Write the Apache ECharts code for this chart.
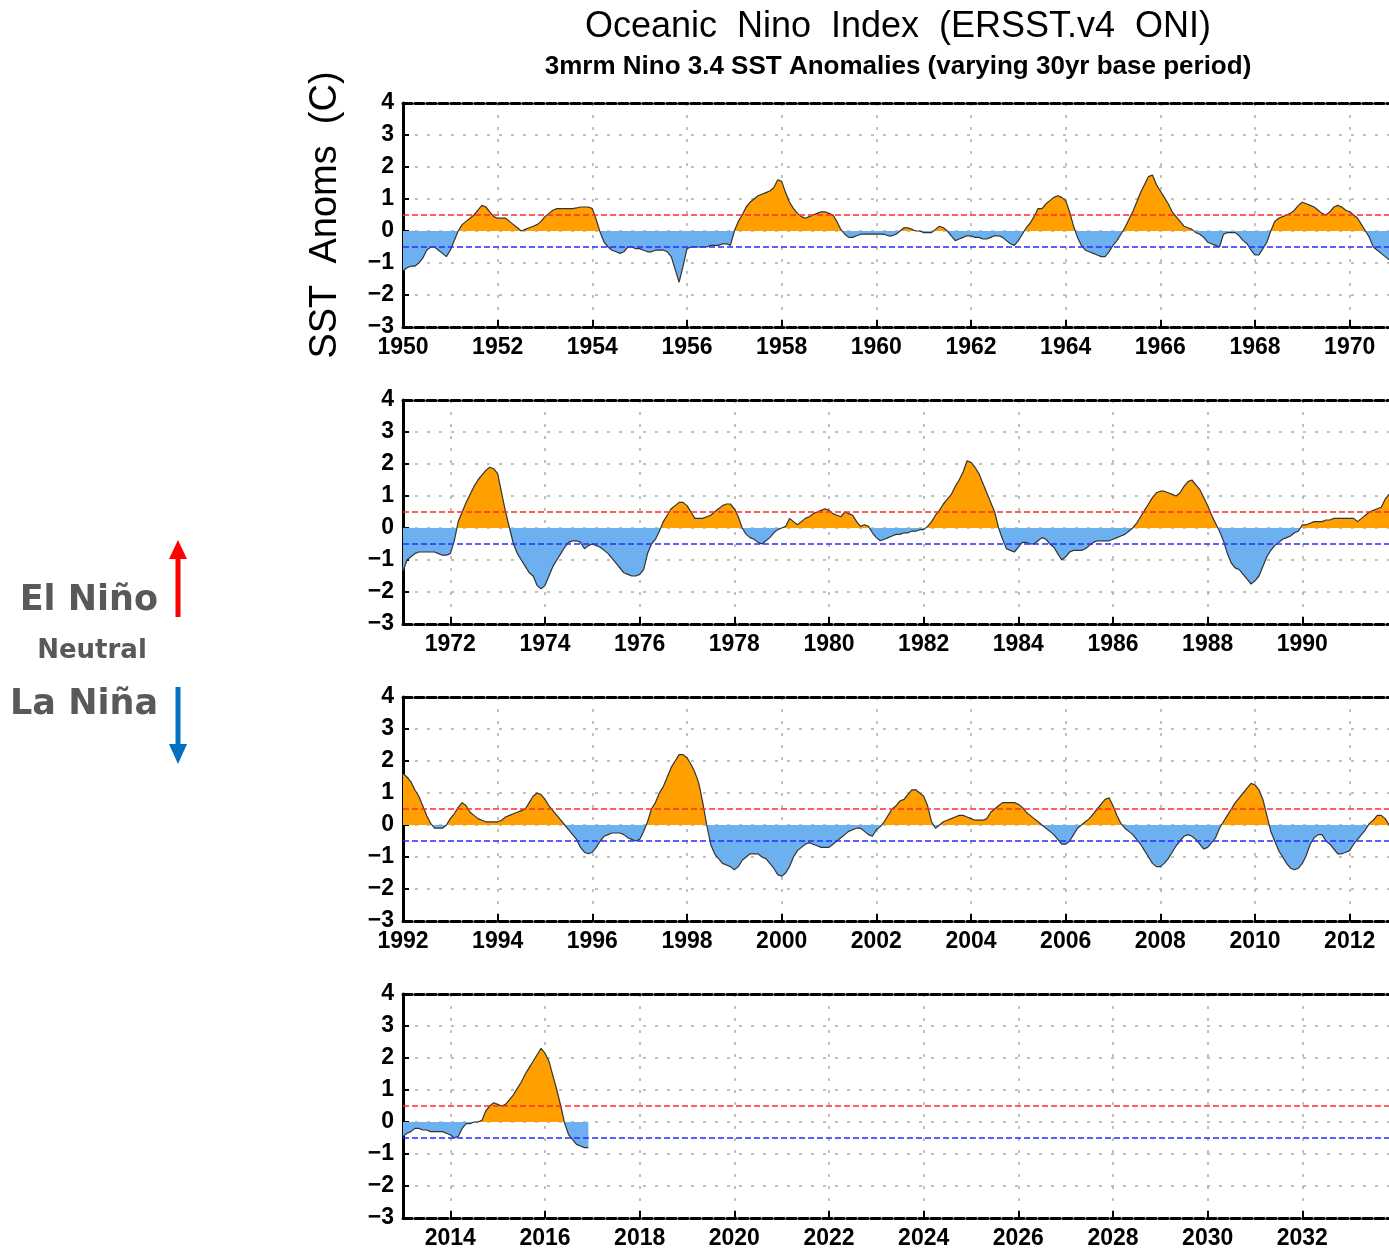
<!DOCTYPE html>
<html>
<head>
<meta charset="utf-8">
<title>Oceanic Nino Index</title>
<script src="https://cdn.jsdelivr.net/npm/echarts@6/dist/echarts.min.js"></script>
<style>
html, body { margin: 0; padding: 0; background: #fff; }
#chart { width: 1389px; height: 1251px; }
</style>
</head>
<body>
<div id="chart"></div>
<script>
// 3-month running mean Nino 3.4 SST anomalies, one row per year (Jan..Dec)
var firstYear = 1950;

var oniA = [ // 1950 - 1970
	-1.25, -1.15, -1.1, -1.1, -1.0, -0.85, -0.6, -0.5, -0.5, -0.6, -0.7, -0.8,
	-0.6, -0.3, 0.0, 0.2, 0.3, 0.4, 0.5, 0.65, 0.8, 0.75, 0.6, 0.45,
	0.4, 0.4, 0.4, 0.3, 0.2, 0.1, 0.0, 0.05, 0.1, 0.15, 0.2, 0.3,
	0.45, 0.55, 0.65, 0.7, 0.7, 0.7, 0.7, 0.7, 0.72, 0.75, 0.75, 0.75,
	0.7, 0.35, -0.05, -0.35, -0.5, -0.6, -0.65, -0.7, -0.65, -0.5, -0.5, -0.55,
	-0.55, -0.6, -0.65, -0.65, -0.6, -0.6, -0.6, -0.65, -0.8, -1.2, -1.6, -1.1,
	-0.55, -0.5, -0.5, -0.5, -0.5, -0.5, -0.45, -0.45, -0.45, -0.4, -0.4, -0.45,
	0.0, 0.3, 0.5, 0.75, 0.9, 1.0, 1.1, 1.15, 1.2, 1.25, 1.35, 1.6,
	1.55, 1.2, 0.9, 0.7, 0.55, 0.45, 0.4, 0.45, 0.5, 0.55, 0.6, 0.6,
	0.55, 0.5, 0.3, 0.05, -0.1, -0.2, -0.2, -0.15, -0.1, -0.1, -0.1, -0.1,
	-0.1, -0.1, -0.1, -0.15, -0.15, -0.1, 0.0, 0.1, 0.1, 0.05, 0.0, 0.0,
	-0.05, -0.05, -0.05, 0.05, 0.15, 0.1, 0.0, -0.15, -0.3, -0.25, -0.2, -0.15,
	-0.15, -0.2, -0.2, -0.25, -0.25, -0.2, -0.15, -0.15, -0.2, -0.3, -0.4, -0.45,
	-0.3, -0.1, 0.1, 0.25, 0.45, 0.7, 0.7, 0.85, 0.95, 1.05, 1.1, 1.05,
	0.95, 0.6, 0.15, -0.2, -0.45, -0.6, -0.65, -0.7, -0.75, -0.8, -0.8, -0.65,
	-0.45, -0.3, -0.1, 0.1, 0.35, 0.6, 0.9, 1.2, 1.45, 1.7, 1.75, 1.45,
	1.25, 1.05, 0.85, 0.6, 0.45, 0.3, 0.15, 0.1, 0.05, -0.05, -0.1, -0.2,
	-0.35, -0.4, -0.45, -0.5, -0.1, -0.05, -0.05, -0.05, -0.15, -0.3, -0.4, -0.6,
	-0.75, -0.75, -0.55, -0.35, 0.0, 0.3, 0.4, 0.45, 0.5, 0.55, 0.65, 0.8,
	0.9, 0.85, 0.8, 0.75, 0.65, 0.55, 0.5, 0.6, 0.75, 0.8, 0.75, 0.65,
	0.6, 0.5, 0.4, 0.2, 0.0, -0.2, -0.5, -0.6, -0.7, -0.8, -0.9, -0.9
];

var oniB = [ // 1971 - 1991
	-1.35, -1.0, -0.9, -0.8, -0.75, -0.75, -0.75, -0.75, -0.75, -0.8, -0.85, -0.85,
	-0.8, -0.4, 0.2, 0.5, 0.8, 1.05, 1.3, 1.5, 1.65, 1.8, 1.9, 1.85,
	1.7, 1.1, 0.5, 0.0, -0.5, -0.8, -1.0, -1.2, -1.4, -1.5, -1.8, -1.9,
	-1.8, -1.5, -1.2, -1.0, -0.8, -0.6, -0.45, -0.4, -0.4, -0.45, -0.65, -0.55,
	-0.5, -0.55, -0.6, -0.7, -0.8, -0.95, -1.1, -1.25, -1.4, -1.45, -1.5, -1.5,
	-1.45, -1.3, -0.8, -0.5, -0.35, -0.1, 0.2, 0.4, 0.6, 0.7, 0.8, 0.8,
	0.7, 0.5, 0.3, 0.3, 0.3, 0.35, 0.4, 0.5, 0.6, 0.7, 0.75, 0.75,
	0.6, 0.35, 0.0, -0.2, -0.3, -0.35, -0.45, -0.5, -0.4, -0.3, -0.15, -0.05,
	0.0, 0.05, 0.3, 0.2, 0.1, 0.2, 0.3, 0.35, 0.45, 0.5, 0.55, 0.6,
	0.55, 0.45, 0.4, 0.35, 0.5, 0.45, 0.4, 0.2, 0.05, 0.1, 0.05, -0.15,
	-0.3, -0.4, -0.35, -0.3, -0.25, -0.2, -0.2, -0.15, -0.15, -0.1, -0.1, -0.05,
	-0.05, 0.05, 0.2, 0.4, 0.55, 0.75, 0.9, 1.05, 1.3, 1.5, 1.75, 2.1,
	2.05, 1.9, 1.7, 1.4, 1.1, 0.8, 0.5, 0.0, -0.35, -0.65, -0.7, -0.75,
	-0.6, -0.45, -0.45, -0.5, -0.5, -0.4, -0.3, -0.35, -0.5, -0.6, -0.8, -1.0,
	-0.9, -0.75, -0.7, -0.7, -0.7, -0.65, -0.55, -0.45, -0.4, -0.4, -0.4, -0.4,
	-0.35, -0.3, -0.25, -0.2, -0.1, 0.0, 0.15, 0.35, 0.55, 0.75, 0.95, 1.1,
	1.15, 1.15, 1.1, 1.05, 1.0, 1.1, 1.3, 1.45, 1.5, 1.35, 1.2, 0.95,
	0.7, 0.4, 0.15, -0.1, -0.4, -0.8, -1.1, -1.25, -1.3, -1.45, -1.6, -1.75,
	-1.65, -1.5, -1.2, -0.9, -0.7, -0.55, -0.45, -0.35, -0.3, -0.25, -0.15, -0.1,
	0.1, 0.1, 0.15, 0.2, 0.2, 0.2, 0.25, 0.25, 0.3, 0.3, 0.3, 0.3,
	0.3, 0.3, 0.2, 0.3, 0.4, 0.5, 0.55, 0.6, 0.65, 0.9, 1.05, 1.3
];

var oniC = [ // 1992 - 2012
	1.6, 1.5, 1.35, 1.1, 0.9, 0.6, 0.3, 0.05, -0.1, -0.1, -0.1, 0.0,
	0.2, 0.35, 0.55, 0.7, 0.6, 0.4, 0.3, 0.2, 0.15, 0.1, 0.1, 0.1,
	0.1, 0.15, 0.25, 0.3, 0.35, 0.4, 0.45, 0.5, 0.7, 0.9, 1.0, 0.95,
	0.8, 0.6, 0.45, 0.3, 0.15, 0.0, -0.15, -0.3, -0.45, -0.7, -0.85, -0.9,
	-0.85, -0.7, -0.5, -0.35, -0.3, -0.25, -0.25, -0.25, -0.3, -0.4, -0.45, -0.5,
	-0.45, -0.2, 0.1, 0.5, 0.7, 1.0, 1.2, 1.5, 1.8, 2.0, 2.2, 2.2,
	2.1, 1.9, 1.65, 1.3, 0.7, 0.0, -0.6, -0.9, -1.05, -1.2, -1.25, -1.3,
	-1.4, -1.3, -1.1, -1.0, -0.9, -0.9, -0.9, -1.0, -1.05, -1.2, -1.35, -1.55,
	-1.6, -1.5, -1.3, -1.0, -0.8, -0.7, -0.6, -0.55, -0.6, -0.65, -0.7, -0.7,
	-0.7, -0.6, -0.5, -0.4, -0.3, -0.2, -0.15, -0.1, -0.1, -0.2, -0.3, -0.35,
	-0.15, -0.05, 0.1, 0.3, 0.5, 0.6, 0.75, 0.8, 0.95, 1.1, 1.1, 1.0,
	0.9, 0.6, 0.1, -0.1, 0.0, 0.1, 0.15, 0.2, 0.25, 0.3, 0.3, 0.25,
	0.2, 0.15, 0.15, 0.15, 0.2, 0.4, 0.5, 0.6, 0.7, 0.7, 0.7, 0.7,
	0.65, 0.55, 0.4, 0.3, 0.2, 0.1, 0.0, -0.1, -0.2, -0.3, -0.45, -0.6,
	-0.6, -0.5, -0.3, -0.1, 0.0, 0.1, 0.2, 0.35, 0.5, 0.65, 0.8, 0.85,
	0.6, 0.3, 0.05, -0.1, -0.2, -0.3, -0.45, -0.6, -0.8, -1.0, -1.2, -1.3,
	-1.3, -1.2, -1.05, -0.85, -0.65, -0.5, -0.35, -0.3, -0.35, -0.45, -0.6, -0.75,
	-0.7, -0.55, -0.4, -0.1, 0.1, 0.3, 0.5, 0.7, 0.85, 1.0, 1.15, 1.3,
	1.25, 1.1, 0.8, 0.3, -0.2, -0.5, -0.8, -1.0, -1.2, -1.35, -1.4, -1.35,
	-1.2, -0.95, -0.6, -0.4, -0.3, -0.3, -0.5, -0.6, -0.75, -0.9, -0.9, -0.85,
	-0.8, -0.6, -0.45, -0.3, -0.15, 0.05, 0.15, 0.3, 0.3, 0.2, 0.0, -0.25
];

var oniD = [ // 2013 - 2016
	-0.45, -0.35, -0.3, -0.2, -0.2, -0.25, -0.25, -0.3, -0.3, -0.3, -0.3, -0.35,
	-0.4, -0.5, -0.45, -0.2, -0.05, -0.05, 0.0, 0.0, 0.05, 0.35, 0.5, 0.6,
	0.55, 0.5, 0.55, 0.7, 0.85, 1.05, 1.25, 1.5, 1.7, 1.9, 2.1, 2.3,
	2.15, 1.9, 1.45, 1.0, 0.5, -0.05, -0.4, -0.55, -0.7, -0.75, -0.8, -0.8
];

var panelStart = [1950, 1971, 1992, 2013];
var panelSpan = 21;
var panelTicks = [
	[1950, 1952, 1954, 1956, 1958, 1960, 1962, 1964, 1966, 1968, 1970],
	[1972, 1974, 1976, 1978, 1980, 1982, 1984, 1986, 1988, 1990],
	[1992, 1994, 1996, 1998, 2000, 2002, 2004, 2006, 2008, 2010, 2012],
	[2014, 2016, 2018, 2020, 2022, 2024, 2026, 2028, 2030, 2032]
];
var elNinoLine = 0.5;
var laNinaLine = -0.5;

var chart = echarts.init(document.getElementById('chart'));

var allValues = oniA.concat(oniB, oniC, oniD);
var points = allValues.map(function(v, i) {
	return [firstYear + i / 12, v];
});

var panelTop = [103, 400, 697, 994];
var labelFont = {
	color: '#000',
	fontFamily: 'Liberation Sans',
	fontWeight: 'bold',
	fontSize: 23
};
var frameDash = {
	color: '#000',
	width: 3,
	type: [9, 3]
};
var gridDots = {
	color: '#aaa',
	width: 1.5,
	type: [3, 9]
};

function withFont(extra) {
	var o = {};
	for (var k in labelFont) o[k] = labelFont[k];
	for (var k2 in extra) o[k2] = extra[k2];
	return o;
}

var grids = [], xAxes = [], yAxes = [], series = [], areaIdx = [];
for (var p = 0; p < 4; p++) {
	grids.push({
		left: 403,
		top: panelTop[p],
		width: 994,
		height: 224,
		containLabel: false,
		outerBoundsMode: 'none'
	});
	// bottom axis with year labels
	xAxes.push({
		type: 'value',
		gridIndex: p,
		position: 'bottom',
		min: panelStart[p],
		max: panelStart[p] + panelSpan,
		axisLine: { show: true, onZero: false, lineStyle: frameDash },
		axisTick: {
			show: true,
			inside: true,
			length: 7,
			customValues: panelTicks[p],
			lineStyle: { color: '#000', width: 2 }
		},
		axisLabel: withFont({
			margin: 9,
			customValues: panelTicks[p],
			formatter: function(v) { return String(v); }
		}),
		splitLine: { show: true, lineStyle: gridDots }
	});
	// top border of the frame
	xAxes.push({
		type: 'value',
		gridIndex: p,
		position: 'top',
		min: panelStart[p],
		max: panelStart[p] + panelSpan,
		axisLine: { show: true, onZero: false, lineStyle: frameDash },
		axisTick: { show: false },
		axisLabel: { show: false },
		splitLine: { show: false }
	});
	var y = {
		type: 'value',
		gridIndex: p,
		min: -3,
		max: 4,
		interval: 1,
		axisLine: { show: true, onZero: false, lineStyle: { color: '#000', width: 3 } },
		axisTick: { show: true, inside: true, length: 6, lineStyle: { color: '#000', width: 2 } },
		axisLabel: withFont({
			margin: 9,
			formatter: function(v) { return String(v).replace('-', '\u2212'); }
		}),
		splitLine: { show: true, lineStyle: gridDots }
	};
	if (p === 0) {
		y.name = 'SST  Anoms  (C)';
		y.nameLocation = 'middle';
		y.nameRotate = 90;
		y.nameGap = 58;
		y.nameTextStyle = {
			color: '#000',
			fontFamily: 'Liberation Sans',
			fontSize: 38
		};
	}
	yAxes.push(y);

	// filled area: colour split at zero by the visualMap below
	areaIdx.push(series.length);
	series.push({
		type: 'line',
		xAxisIndex: p * 2,
		yAxisIndex: p,
		data: points,
		showSymbol: false,
		silent: true,
		clip: true,
		lineStyle: { width: 0 },
		areaStyle: { opacity: 1 },
		z: 2
	});
	// thin outline + the +/-0.5 thresholds
	series.push({
		type: 'line',
		xAxisIndex: p * 2,
		yAxisIndex: p,
		data: points,
		showSymbol: false,
		silent: true,
		clip: true,
		lineStyle: { color: '#333', width: 1.2 },
		z: 3,
		markLine: {
			silent: true,
			symbol: ['none', 'none'],
			label: { show: false },
			data: [
				{ yAxis: elNinoLine, lineStyle: { color: '#ff2b2b', type: [6, 3], width: 1.6 } },
				{ yAxis: laNinaLine, lineStyle: { color: '#2b2bff', type: [6, 3], width: 1.6 } }
			]
		}
	});
}

var textGrey = '#595959';
var option = {
	backgroundColor: '#fff',
	animation: false,
	grid: grids,
	xAxis: xAxes,
	yAxis: yAxes,
	visualMap: {
		type: 'piecewise',
		show: false,
		dimension: 1,
		seriesIndex: areaIdx,
		pieces: [
			{ gt: -10, lte: 0, color: '#6cb0f0' },
			{ gt: 0, lte: 10, color: '#ffa000' }
		],
		outOfRange: { color: '#999' }
	},
	series: series,
	graphic: [
		{
			type: 'text',
			x: 898, y: 27,
			style: {
				text: 'Oceanic  Nino  Index  (ERSST.v4  ONI)',
				font: '36px "Liberation Sans"',
				fill: '#000',
				align: 'center',
				verticalAlign: 'middle'
			}
		},
		{
			type: 'text',
			x: 898, y: 67,
			style: {
				text: '3mrm Nino 3.4 SST Anomalies (varying 30yr base period)',
				font: 'bold 26px "Liberation Sans"',
				fill: '#000',
				align: 'center',
				verticalAlign: 'middle'
			}
		},
		{
			type: 'text',
			x: 158, y: 601,
			style: {
				text: 'El Niño',
				font: 'bold 35px "DejaVu Sans"',
				fill: textGrey,
				align: 'right',
				verticalAlign: 'middle'
			}
		},
		{
			type: 'text',
			x: 92, y: 651,
			style: {
				text: 'Neutral',
				font: 'bold 26px "DejaVu Sans"',
				fill: textGrey,
				align: 'center',
				verticalAlign: 'middle'
			}
		},
		{
			type: 'text',
			x: 158, y: 705,
			style: {
				text: 'La Niña',
				font: 'bold 35px "DejaVu Sans"',
				fill: textGrey,
				align: 'right',
				verticalAlign: 'middle'
			}
		},
		{
			type: 'line',
			shape: { x1: 178, y1: 617, x2: 178, y2: 556 },
			style: { stroke: '#ff0000', lineWidth: 5 }
		},
		{
			type: 'polygon',
			shape: { points: [[169, 559], [187, 559], [178, 540]] },
			style: { fill: '#ff0000' }
		},
		{
			type: 'line',
			shape: { x1: 178, y1: 687, x2: 178, y2: 747 },
			style: { stroke: '#0070c0', lineWidth: 5 }
		},
		{
			type: 'polygon',
			shape: { points: [[169, 744], [187, 744], [178, 764]] },
			style: { fill: '#0070c0' }
		}
	]
};

chart.setOption(option);
</script>
</body>
</html>
